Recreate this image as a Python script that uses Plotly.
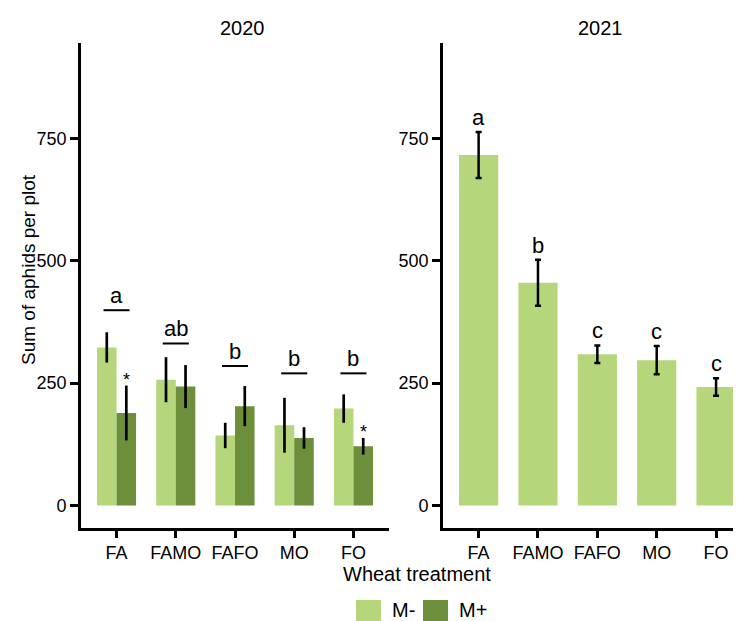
import plotly.graph_objects as go

treatments = ['FA', 'FAMO', 'FAFO', 'MO', 'FO']

# 2020: both mycorrhiza treatments
m_minus_2020 = [323, 257, 143, 164, 198]
m_minus_2020_se = [31, 46, 26, 56, 29]
m_plus_2020 = [189, 243, 203, 138, 121]
m_plus_2020_se = [56, 44, 41, 22, 17]
letters_2020 = ['a', 'ab', 'b', 'b', 'b']
letter_line_2020 = [399, 331, 285, 270, 270]
stars_2020 = ['*', '', '', '', '*']

# 2021: only M-
m_minus_2021 = [716, 455, 309, 297, 242]
m_minus_2021_se = [47, 47, 18, 29, 18]
letters_2021 = ['a', 'b', 'c', 'c', 'c']

y_ticks = [0, 250, 500, 750]

light = '#b5d67a'
dark = '#6d8e3a'
font = 'Liberation Sans, Arial, sans-serif'
W, H = 741, 621
OFF = 8  # the page body adds an 8px margin


def px(x):
    return (x - OFF) / W


def py(y):
    return 1 - (y - OFF) / H


xpos = list(range(len(treatments)))

fig = go.Figure()

fig.add_trace(go.Bar(
    x=xpos, y=m_minus_2020, name='M-', marker_color=light, marker_line_width=0,
    error_y=dict(type='data', array=m_minus_2020_se, color='black', thickness=2.7, width=0),
    xaxis='x', yaxis='y', offsetgroup='m-', showlegend=False
))
fig.add_trace(go.Bar(
    x=xpos, y=m_plus_2020, name='M+', marker_color=dark, marker_line_width=0,
    error_y=dict(type='data', array=m_plus_2020_se, color='black', thickness=2.7, width=0),
    xaxis='x', yaxis='y', offsetgroup='m+', showlegend=False
))
fig.add_trace(go.Bar(
    x=xpos, y=m_minus_2021, name='M-', marker_color=light, marker_line_width=0,
    error_y=dict(type='data', array=m_minus_2021_se, color='black', thickness=2.5, width=3),
    xaxis='x2', yaxis='y2', showlegend=False
))

# letters and underlines, 2020
for i, (lab, ly) in enumerate(zip(letters_2020, letter_line_2020)):
    fig.add_shape(type='line', xref='x', yref='y', x0=i - 0.22, x1=i + 0.22, y0=ly, y1=ly,
                  line=dict(color='black', width=2))
    fig.add_annotation(x=i, y=ly, xref='x', yref='y', text=lab, showarrow=False,
                       xanchor='center', yanchor='bottom',
                       font=dict(family=font, size=22, color='black'))

# significance stars on M+ bars
for i, s in enumerate(stars_2020):
    if s:
        fig.add_annotation(x=i + 0.165, y=m_plus_2020[i] + m_plus_2020_se[i], xref='x', yref='y',
                           text=s, showarrow=False, xanchor='center', yanchor='bottom', yshift=-6,
                           font=dict(family=font, size=18, color='black'))

# letters, 2021
for i, lab in enumerate(letters_2021):
    fig.add_annotation(x=i, y=m_minus_2021[i] + m_minus_2021_se[i], xref='x2', yref='y2',
                       text=lab, showarrow=False, xanchor='center', yanchor='bottom',
                       font=dict(family=font, size=22, color='black'))

# panel titles and axis titles
txt = dict(xref='paper', yref='paper', showarrow=False, xanchor='center', yanchor='middle')
fig.add_annotation(x=px(242), y=py(28), text='2020', font=dict(family=font, size=20, color='black'), **txt)
fig.add_annotation(x=px(600), y=py(28), text='2021', font=dict(family=font, size=20, color='black'), **txt)
fig.add_annotation(x=px(417), y=py(574), text='Wheat treatment',
                   font=dict(family=font, size=20, color='black'), **txt)
fig.add_annotation(x=px(28), y=py(270), text='Sum of aphids per plot', textangle=-90,
                   font=dict(family=font, size=19, color='black'), **txt)

# legend drawn by hand so the keys match the large squares
for x0, col, lab in [(356, light, 'M-'), (423, dark, 'M+')]:
    fig.add_shape(type='rect', xref='paper', yref='paper', x0=px(x0), x1=px(x0 + 25),
                  y0=py(625), y1=py(600), fillcolor=col, line_width=0)
    fig.add_annotation(x=px(x0 + 34), y=py(610), text=lab,
                       font=dict(family=font, size=20, color='black'),
                       **{**txt, 'xanchor': 'left'})

axis_common = dict(showline=True, linecolor='black', linewidth=2.7, ticks='outside',
                   tickwidth=2.5, tickcolor='black', showgrid=False, zeroline=False,
                   tickfont=dict(family=font, size=18, color='black'))

fig.update_layout(
    width=W, height=H,
    margin=dict(l=0, r=0, t=0, b=0),
    paper_bgcolor='white', plot_bgcolor='white',
    barmode='group', bargap=0.34, bargroupgap=0,
    showlegend=False,
    xaxis=dict(domain=[px(81), px(389)], range=[-0.6, 4.6], tickvals=xpos, ticktext=treatments,
               anchor='y', ticklen=7, **axis_common),
    yaxis=dict(domain=[py(528), py(43)], range=[-46, 945], tickvals=y_ticks,
               anchor='x', ticklen=8, **axis_common),
    xaxis2=dict(domain=[px(443), px(741)], range=[-0.6, 4.42], tickvals=xpos, ticktext=treatments,
                anchor='y2', ticklen=7, **axis_common),
    yaxis2=dict(domain=[py(528), py(43)], range=[-46, 945], tickvals=y_ticks,
                anchor='x2', ticklen=8, **axis_common),
)

fig.write_html('out.html')
